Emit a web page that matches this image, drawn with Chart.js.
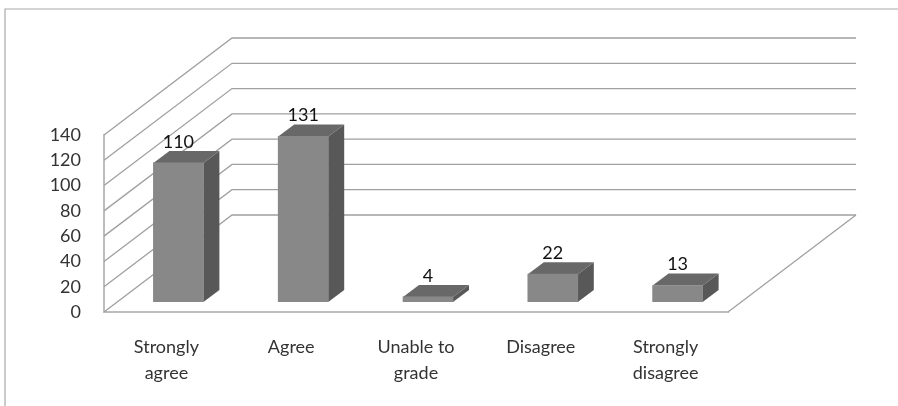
<!DOCTYPE html>
<html>
<head>
<meta charset="utf-8">
<style>
    html, body { margin: 0; padding: 0; background: #fff; }
    #wrap { position: relative; width: 898px; height: 406px; }
</style>
<script src="https://cdn.jsdelivr.net/npm/chart.js@4"></script>
</head>
<body>
<div id="wrap"><canvas id="gradeChart" width="898" height="406"></canvas></div>
<script>
const categories = [['Strongly', 'agree'], 'Agree', ['Unable to', 'grade'], 'Disagree', ['Strongly', 'disagree']];
const answerCounts = [110, 131, 4, 22, 13];
const yMax = 140;
const yStep = 20;

// depth of the floor and of the bars, in pixels
const wallDx = 128, wallDy = -97;
const barShiftX = 12, barShiftY = -10;
const barDx = 16, barDy = -12;

const FONT = 'Lato, sans-serif';

function fillPoly(ctx, color, pts) {
    ctx.fillStyle = color;
    ctx.beginPath();
    pts.forEach((p, i) => i ? ctx.lineTo(p[0], p[1]) : ctx.moveTo(p[0], p[1]));
    ctx.closePath();
    ctx.fill();
}

const wallsPlugin = {
    id: 'walls',
    beforeDatasetsDraw(chart) {
        const ctx = chart.ctx;
        const { left, right } = chart.chartArea;
        const yScale = chart.scales.y;
        ctx.save();

        // outer frame, top and left only
        ctx.strokeStyle = '#a9a9a9';
        ctx.lineWidth = 1.2;
        ctx.beginPath();
        ctx.moveTo(5, 406);
        ctx.lineTo(5, 9);
        ctx.lineTo(898, 9);
        ctx.stroke();

        // back wall lines and their run down the side wall
        ctx.strokeStyle = '#a0a0a0';
        ctx.lineWidth = 1.3;
        yScale.ticks.forEach(t => {
            const y = yScale.getPixelForValue(t.value);
            ctx.beginPath();
            ctx.moveTo(left, y);
            ctx.lineTo(left + wallDx, y + wallDy);
            ctx.lineTo(right + wallDx, y + wallDy);
            ctx.stroke();
        });

        // right edge of the floor
        const y0 = yScale.getPixelForValue(0);
        ctx.beginPath();
        ctx.moveTo(right, y0);
        ctx.lineTo(right + wallDx, y0 + wallDy);
        ctx.stroke();
        ctx.restore();
    }
};

const barDepthPlugin = {
    id: 'barDepth',
    beforeDatasetDraw(chart, args) {
        const ctx = chart.ctx;
        ctx.save();
        ctx.translate(barShiftX, barShiftY);
        chart.getDatasetMeta(args.index).data.forEach(bar => {
            const l = bar.x - bar.width / 2, r = bar.x + bar.width / 2;
            fillPoly(ctx, '#585858', [[r, bar.y], [r + barDx, bar.y + barDy], [r + barDx, bar.base + barDy], [r, bar.base]]);
            fillPoly(ctx, '#686868', [[l, bar.y], [l + barDx, bar.y + barDy], [r + barDx, bar.y + barDy], [r, bar.y]]);
        });
    },
    afterDatasetDraw(chart, args) {
        const ctx = chart.ctx;
        ctx.restore();
        // value labels sit above the top face
        ctx.save();
        ctx.font = '18px ' + FONT;
        ctx.fillStyle = '#111';
        ctx.textAlign = 'center';
        ctx.textBaseline = 'middle';
        chart.getDatasetMeta(args.index).data.forEach((bar, i) => {
            ctx.fillText(answerCounts[i], bar.x + barShiftX, bar.y + barShiftY - 21);
        });
        ctx.restore();
    }
};

new Chart(document.getElementById('gradeChart').getContext('2d'), {
    type: 'bar',
    data: {
        labels: categories,
        datasets: [{
            data: answerCounts,
            backgroundColor: '#888888',
            barThickness: 50
        }]
    },
    options: {
        responsive: false,
        animation: false,
        layout: { padding: { left: 0, right: 170, top: 135, bottom: 0 } },
        plugins: {
            legend: { display: false },
            tooltip: { enabled: false },
            title: { display: false }
        },
        scales: {
            x: {
                grid: { display: false, drawTicks: false },
                border: { display: true, color: '#bdbdbd', width: 2 },
                ticks: {
                    color: '#333',
                    padding: 22,
                    maxRotation: 0,
                    autoSkip: false,
                    font: { family: FONT, size: 18, lineHeight: 1.44 }
                },
                afterFit(scale) {
                    scale.height = 94;
                    scale.paddingLeft = 0;
                    scale.paddingRight = 0;
                }
            },
            y: {
                min: 0,
                max: yMax,
                grid: { display: false, drawTicks: false },
                border: { display: true, color: '#bdbdbd', width: 2 },
                ticks: {
                    stepSize: yStep,
                    color: '#333',
                    padding: 23,
                    font: { family: FONT, size: 18 }
                },
                afterFit(scale) {
                    scale.width = 104;
                    scale.paddingTop = 0;
                    scale.paddingBottom = 0;
                }
            }
        }
    },
    plugins: [wallsPlugin, barDepthPlugin]
});
</script>
</body>
</html>
